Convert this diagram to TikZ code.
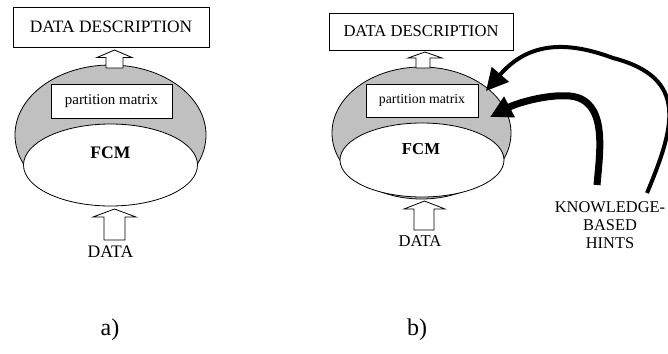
\documentclass[tikz,border=0pt]{standalone}
\usepackage{fontspec}
\setmainfont{Liberation Serif}
\usepackage{xcolor}
\usepackage{tikz}
\usetikzlibrary{positioning, shapes.geometric, arrows.meta}
\definecolor{shellgray}{RGB}{192,192,192}

\begin{document}
\begin{tikzpicture}[x=1pt, y=-1pt, line width=0.8pt,
    box/.style={draw, rectangle, fill=white, inner sep=0pt},
    blob/.style={draw, ellipse, inner sep=0pt},
    blockarrow/.style={draw, fill=white, line width=0.8pt},
    hintarrow/.style={line width=#1, -{Triangle[length=22pt, width=22pt]}}]
    \useasboundingbox (0,0) rectangle (668,353);

    % Define the shells (a)
    \node[blob, fill=shellgray, minimum width=191pt, minimum height=140pt] (shellA) at (110.5,135) {};
    \node[blob, fill=white, minimum width=174pt, minimum height=82pt] (fcmA) at (110.5,165) {};
    \node[box, minimum width=121pt, minimum height=34pt, font=\fontsize{14.9}{17}\selectfont] (partA) at (111.5,101) {partition matrix};
    \node[font=\fontsize{17.6}{20}\selectfont\bfseries] (fcmlabelA) at (110.5,153) {FCM};
    \node[box, minimum width=196pt, minimum height=40pt, font=\fontsize{17.4}{20}\selectfont] (descA) at (111,27) {DATA DESCRIPTION};
    \node[font=\fontsize{17.6}{20}\selectfont] (dataA) at (110.5,252) {DATA};
    \node[font=\fontsize{24}{28}\selectfont] (capA) at (110,330) {a)};

    % Define the block arrows (a)
    \draw[blockarrow] (106,68) -- (106,57.5) -- (97,57.5) -- (114.5,50) -- (132,57.5) -- (123,57.5) -- (123,68) -- cycle;
    \draw[blockarrow] (104,240) -- (104,217) -- (93,217) -- (114.5,209) -- (136,217) -- (125,217) -- (125,240) -- cycle;

    % Define the shells (b)
    \node[blob, fill=shellgray, minimum width=179pt, minimum height=132pt] (shellB) at (421.5,133) {};
    \node[blob, fill=white, minimum width=164pt, minimum height=74pt] (fcmB) at (422,160) {};
    \node[box, minimum width=112pt, minimum height=33pt, font=\fontsize{13.8}{16}\selectfont] (partB) at (422,100.5) {partition matrix};
    \node[font=\fontsize{16.7}{19}\selectfont\bfseries] (fcmlabelB) at (421,149) {FCM};
    \node[box, minimum width=184pt, minimum height=37pt, font=\fontsize{16.6}{19}\selectfont] (descB) at (421,31.5) {DATA DESCRIPTION};
    \node[font=\fontsize{16.6}{19}\selectfont] (dataB) at (420,241) {DATA};
    \node[font=\fontsize{24}{28}\selectfont] (capB) at (417,330) {b)};
    \node[align=center, inner sep=0pt, font=\fontsize{16.4}{18}\selectfont] (hints) at (610,225) {KNOWLEDGE-\\BASED\\HINTS};

    % Define the block arrows (b)
    \draw[blockarrow] (416,68) -- (416,58) -- (408,58) -- (425,52) -- (442,58) -- (430,58) -- (430,68) -- cycle;
    \draw[blockarrow] (414,230) -- (414,209) -- (404,209) -- (424.5,201) -- (445,209) -- (434,209) -- (434,230) -- cycle;

    % Define the hints
    \coordinate (hintfar) at (647,193);
    \coordinate (hintnear) at (597,185);
    \coordinate (tipfar) at (486,91);
    \coordinate (tipnear) at (490,117);
    \draw[hintarrow=4pt] (hintfar) .. controls (674,128) and (690,78) .. (613,58)
        .. controls (570,42) and (530,40) .. (tipfar);
    \draw[hintarrow=7pt] (hintnear) .. controls (600,150) and (608,100) .. (570,96)
        .. controls (545,94) and (515,104) .. (tipnear);

\end{tikzpicture}
\end{document}
